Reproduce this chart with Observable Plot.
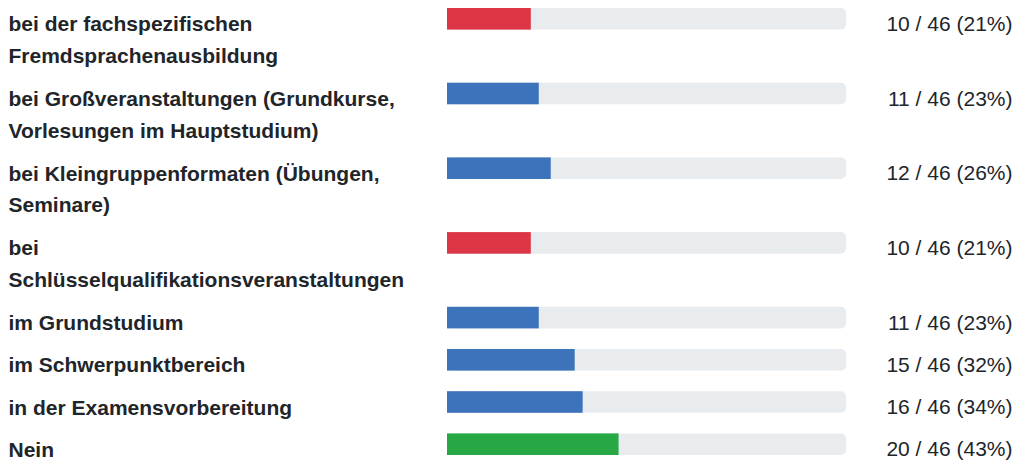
<!DOCTYPE html>
<html>
<head>
<meta charset="utf-8">
<script src="https://cdn.jsdelivr.net/npm/d3@7"></script>
<script src="https://cdn.jsdelivr.net/npm/@observablehq/plot@0.6"></script>
<style>
  html, body { margin: 0; padding: 0; background: #fff; }
  #chart svg { display: block; }
</style>
</head>
<body>
<div id="chart"></div>
<script>
// ---- data ----
const labels = [
  "bei der fachspezifischen\nFremdsprachenausbildung",
  "bei Großveranstaltungen (Grundkurse,\nVorlesungen im Hauptstudium)",
  "bei Kleingruppenformaten (Übungen,\nSeminare)",
  "bei\nSchlüsselqualifikationsveranstaltungen",
  "im Grundstudium",
  "im Schwerpunktbereich",
  "in der Examensvorbereitung",
  "Nein"
];
const counts = [10, 11, 12, 10, 11, 15, 16, 20];
const totals = [46, 46, 46, 46, 46, 46, 46, 46];
const percents = [21, 23, 26, 21, 23, 32, 34, 43];
const status = ["low", "mid", "mid", "low", "mid", "mid", "mid", "high"];

// ---- layout (styles) ----
const W = 1016, H = 460;
const LINE = 32.5, GAP = 9.7, BAR = 21.6, TOP = 8;
const FONT = 21, RADIUS = 5;

let acc = TOP;
const rows = labels.map((label, i) => {
  const lines = label.split("\n").length;
  const top = acc;
  acc += lines * LINE + GAP;
  return {
    label,
    count: counts[i],
    total: totals[i],
    pct: percents[i],
    status: status[i],
    top,
    bottom: top + BAR,
    value: `${counts[i]} / ${totals[i]} (${percents[i]}%)`
  };
});

const chart = Plot.plot({
  width: W,
  height: H,
  margin: 0,
  style: { fontFamily: "'Liberation Sans', Arial, Helvetica, sans-serif", background: "#fff" },
  x: { domain: [0, 100], range: [447, 846], axis: null },
  y: { domain: [0, H], range: [0, H], axis: null },
  color: { domain: ["low", "mid", "high"], range: ["#dc3545", "#3d73bb", "#28a745"] },
  marks: [
    // track
    Plot.rect(rows, { x1: 0, x2: 100, y1: "top", y2: "bottom", fill: "#e9ecef", rx: RADIUS, ariaLabel: "track" }),
    // fill (clipped to the track afterwards)
    Plot.rect(rows, { x1: 0, x2: "pct", y1: "top", y2: "bottom", fill: "status", ariaLabel: "fillbar" }),
    // labels
    Plot.text(rows, {
      y: d => d.top + 0.5,
      text: "label",
      frameAnchor: "left",
      textAnchor: "start",
      lineAnchor: "top",
      lineHeight: 1.5,
      dx: 8,
      fontSize: FONT,
      fontWeight: "bold",
      fill: "#212529"
    }),
    // values
    Plot.text(rows, {
      y: d => d.top + 7.5,
      text: "value",
      frameAnchor: "right",
      textAnchor: "end",
      lineAnchor: "top",
      dx: -4,
      fontSize: FONT,
      fill: "#212529"
    })
  ]
});

// clip each fill bar to its rounded track (progress-bar look)
const svg = d3.select(chart);
const defs = svg.insert("defs", ":first-child");
const tracks = svg.selectAll('g[aria-label="track"] rect').nodes();
svg.selectAll('g[aria-label="fillbar"] rect').each(function (d, i) {
  const t = tracks[i];
  if (!t) return;
  const id = "clip-track-" + i;
  const c = t.cloneNode(true);
  c.setAttribute("rx", RADIUS);
  c.setAttribute("ry", RADIUS);
  defs.append("clipPath").attr("id", id).node().appendChild(c);
  d3.select(this).attr("clip-path", `url(#${id})`);
});

document.getElementById("chart").appendChild(chart);
</script>
</body>
</html>
